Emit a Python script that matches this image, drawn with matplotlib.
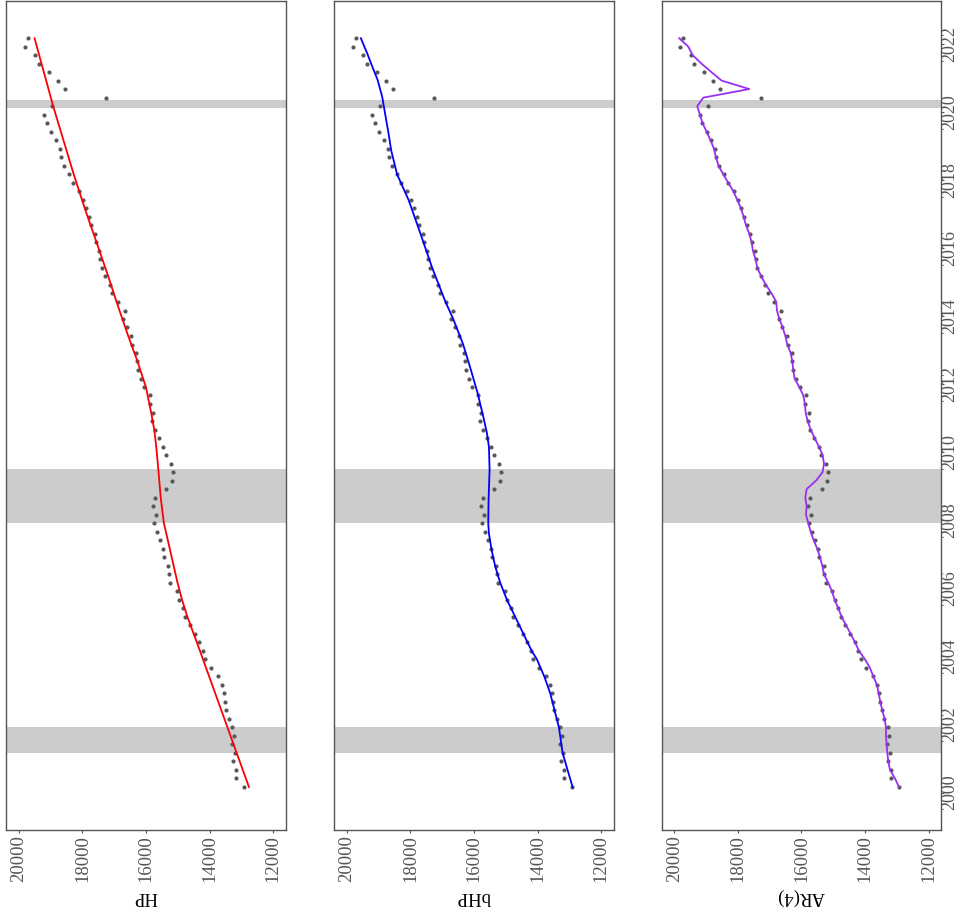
import numpy as np
import pandas as pd
import matplotlib
matplotlib.use('Agg')
import matplotlib.pyplot as plt

# quarterly observations, 2000Q1 .. 2022Q1
dates = pd.date_range('2000-03-01', periods=89, freq='3MS')
gdp = [12933, 13174, 13185, 13269, 13216, 13311, 13248, 13290, 13405, 13478,
       13531, 13552, 13625, 13741, 13971, 14139, 14223, 14328, 14464, 14621,
       14768, 14841, 14957, 15041, 15240, 15282, 15303, 15439, 15481, 15575,
       15670, 15764, 15701, 15796, 15722, 15366, 15187, 15166, 15219, 15387,
       15460, 15607, 15722, 15806, 15775, 15880, 15869, 16058, 16173, 16267,
       16288, 16309, 16435, 16467, 16603, 16718, 16655, 16875, 17064, 17148,
       17284, 17389, 17442, 17473, 17568, 17609, 17725, 17809, 17893, 17987,
       18123, 18301, 18438, 18595, 18689, 18721, 18836, 18983, 19119, 19203,
       18951, 17263, 18553, 18773, 19056, 19371, 19486, 19811, 19727]

# trend lines, read at quarter index positions
hp_idx = [0, 4, 8, 12, 16, 20, 22, 24, 28, 31, 34, 37, 40, 42, 44, 47, 50,
          53, 57, 60, 64, 68, 72, 76, 80, 84, 88]
hp_val = [12765, 13150, 13535, 13920, 14305, 14700, 14870, 15010, 15254,
          15439, 15540, 15607, 15680, 15743, 15840, 16005, 16270, 16561,
          16928, 17187, 17557, 17927, 18274, 18597, 18920, 19213, 19507]

bhp_idx = [0, 4, 7, 9, 11, 13, 15, 16.1, 18.1, 20, 22, 24, 25.9, 27.9, 29.8,
           31, 33.7, 37.3, 40, 41.6, 43.9, 46.3, 49.4, 52.1, 54.9, 57.2,
           61.1, 65.1, 69, 72, 74.8, 76.8, 79.5, 81.1, 83.1, 84.6, 86.2, 88]
bhp_val = [12902, 13216, 13331, 13468, 13604, 13793, 14024, 14202, 14464,
           14705, 14967, 15177, 15334, 15450, 15533, 15554, 15544, 15512,
           15533, 15596, 15733, 15890, 16131, 16351, 16645, 16920, 17326,
           17693, 18060, 18420, 18606, 18689, 18815, 18889, 19035, 19193,
           19360, 19560]

ar4 = [12933, 13059, 13216, 13269, 13300, 13321, 13342, 13342, 13384, 13457,
       13520, 13573, 13625, 13741, 13846, 14003, 14191, 14317, 14454, 14600,
       14737, 14841, 14957, 15041, 15156, 15292, 15345, 15418, 15502, 15617,
       15712, 15785, 15858, 15837, 15879, 15837, 15544, 15334, 15292, 15334,
       15450, 15586, 15712, 15806, 15869, 15890, 15942, 16068, 16215, 16257,
       16288, 16341, 16446, 16508, 16592, 16697, 16771, 16792, 16938, 17117,
       17263, 17389, 17442, 17526, 17567, 17641, 17746, 17819, 17903, 18018,
       18144, 18301, 18459, 18606, 18689, 18752, 18857, 18983, 19109, 19193,
       19277, 19088, 17641, 18511, 18826, 19140, 19423, 19560, 19843]

recessions = [('2001-03-01', '2001-11-30'), ('2007-12-01', '2009-06-30'),
              ('2020-02-07', '2020-05-07')]

labels = ['HP', 'bHP', 'AR(4)']
colors = ['red', 'blue', '#9b2ff0']
years = list(range(2000, 2023, 2))
value_ticks = [20000, 18000, 16000, 14000, 12000]


def dec_year(d):
    d = pd.Timestamp(d)
    return d.year + (d.dayofyear - 1) / 365.25


plt.rcParams['font.family'] = ['Liberation Serif', 'DejaVu Serif']

t = np.array([dec_year(d) for d in dates])


def idx_to_year(idx):
    return np.interp(idx, np.arange(len(t)), t)


lines = [(idx_to_year(hp_idx), hp_val),
         (idx_to_year(bhp_idx), bhp_val),
         (t, ar4)]

fig = plt.figure(figsize=(9.61, 9.14), dpi=100)
lefts = [6.3, 334.3, 661.7]
for i in range(3):
    ax = fig.add_axes([lefts[i] / 961, 84 / 914, 279.3 / 961, 829.5 / 914])

    for a, b in recessions:
        ax.axhspan(dec_year(a), dec_year(b), color='#cccccc', lw=0, zorder=1)

    ax.plot(gdp, t, 'o', ms=3.0, color='#585858', mec='none', zorder=2)
    ly, lv = lines[i]
    ax.plot(lv, ly, color=colors[i], lw=1.3, zorder=3)

    ax.set_xlim(20395, 11612)
    ax.set_ylim(1998.90, 2023.27)
    ax.set_xticks(value_ticks)
    ax.set_xticklabels([str(v) for v in value_ticks])
    ax.tick_params(axis='x', labelrotation=90, labelsize=13.5, length=2.5,
                   pad=1.5, colors='#555555')
    ax.set_xlabel(labels[i], rotation=180, fontsize=13.5, labelpad=4)

    for s in ax.spines.values():
        s.set_color('#555555')
        s.set_linewidth(1.0)

    ax.set_yticks(years)
    if i < 2:
        ax.tick_params(axis='y', left=False, right=False,
                       labelleft=False, labelright=False)
    else:
        ax.yaxis.tick_right()
        ax.tick_params(axis='y', labelrotation=90, labelsize=13,
                       length=2.5, pad=-2.5, colors='#555555')
        for lab in ax.get_yticklabels():
            lab.set_va('center')

fig.savefig('out.png', dpi=100)
